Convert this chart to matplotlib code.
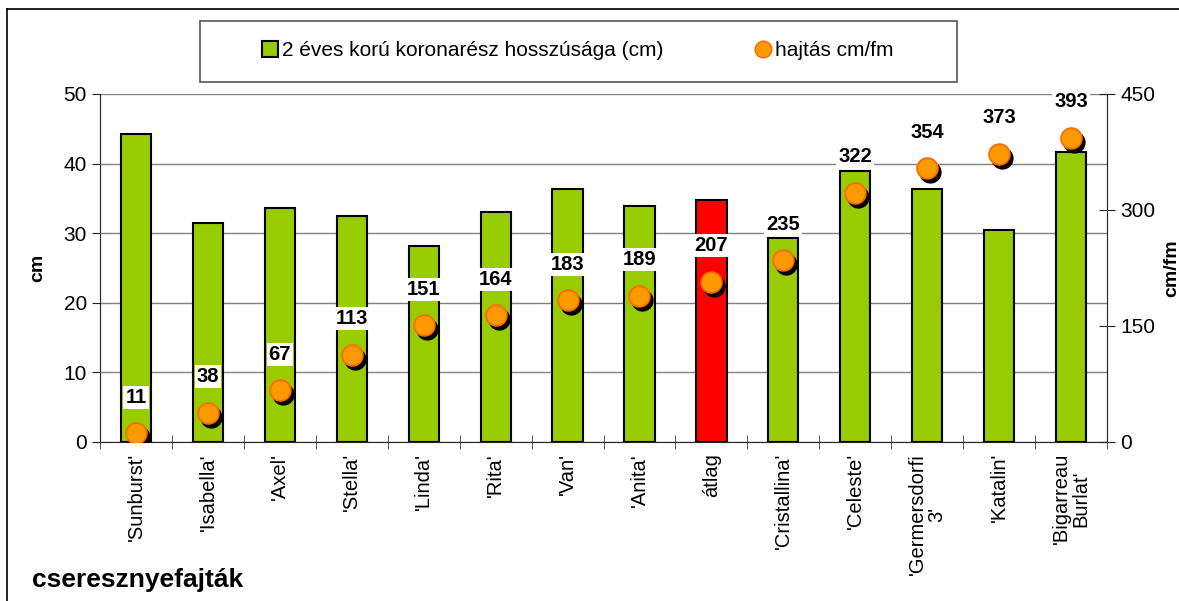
import numpy as np
import matplotlib
matplotlib.use("Agg")
import matplotlib.pyplot as plt
import matplotlib.transforms as mtransforms
from matplotlib.lines import Line2D
from matplotlib.patches import Rectangle

plt.rcParams['font.family'] = ['Liberation Sans', 'DejaVu Sans']

# data
fajtak = ["'Sunburst'", "'Isabella'", "'Axel'", "'Stella'", "'Linda'", "'Rita'",
          "'Van'", "'Anita'", "átlag", "'Cristallina'", "'Celeste'",
          "'Germersdorfi\n3'", "'Katalin'", "'Bigarreau\nBurlat'"]
korona_cm = [44.3, 31.5, 33.6, 32.5, 28.2, 33.0, 36.3, 33.9, 34.8, 29.3,
             39.0, 36.3, 30.5, 41.6]
hajtas = [11, 38, 67, 113, 151, 164, 183, 189, 207, 235, 322, 354, 373, 393]
atlag_nev = "átlag"

green = '#99CC00'
red = '#FF0000'
orange = '#FF9900'

fig = plt.figure(figsize=(11.79, 6.01), dpi=100)
ax = fig.add_axes([0.0848, 0.2646, 0.8542, 0.579])

x = np.arange(len(fajtak))
colors = [red if f == atlag_nev else green for f in fajtak]
ax.bar(x, korona_cm, width=0.42, color=colors, edgecolor='black',
       linewidth=1.5, zorder=2)

ax.set_xlim(-0.5, len(fajtak) - 0.5)
ax.set_ylim(0, 50)
ax.set_yticks(np.arange(0, 51, 10))
ax.yaxis.grid(True, color='#808080', linewidth=1)
ax.set_axisbelow(True)
ax.tick_params(axis='y', labelsize=15, direction='out', length=6, colors='#222222')
ax.tick_params(axis='y', labelcolor='black')
ax.set_xticks(np.arange(len(fajtak) + 1) - 0.5, minor=True)
ax.set_xticks(x)
ax.set_xticklabels(fajtak, rotation=90, fontsize=14.5, ha='center', va='top',
                   multialignment='center', linespacing=1.0)
ax.tick_params(axis='x', which='major', length=0, pad=8)
ax.tick_params(axis='x', which='minor', length=10, direction='inout', colors='#333333')
for s in ['top', 'right']:
    ax.spines[s].set_visible(False)
ax.spines['left'].set_color('#222222')
ax.spines['bottom'].set_color('#222222')
ax.set_ylabel('cm', fontsize=14, fontweight='bold', labelpad=12)

ax2 = ax.twinx()
ax2.set_ylim(0, 450)
ax2.set_yticks([0, 150, 300, 450])
ax2.tick_params(axis='y', labelsize=15, direction='inout', length=12, colors='#222222')
ax2.tick_params(axis='y', labelcolor='black')
for s in ['top', 'left', 'bottom']:
    ax2.spines[s].set_visible(False)
ax2.spines['right'].set_color('#222222')
ax2.set_ylabel('cm/fm', fontsize=14, fontweight='bold', labelpad=6)

# shadow, then the points
shadow = mtransforms.offset_copy(ax2.transData, fig=fig, x=3, y=-4, units='dots')
ax2.plot(x, hajtas, 'o', color='black', markersize=15, transform=shadow, zorder=3)
ax2.plot(x, hajtas, 'o', color=orange, markeredgecolor='#FF6600',
         markeredgewidth=1.2, markersize=15, zorder=4)

for xi, v in zip(x, hajtas):
    ax2.annotate(str(v), (xi, v), xytext=(0, 26), textcoords='offset points',
                 ha='center', va='center', fontsize=14.5, fontweight='bold',
                 bbox=dict(boxstyle='square,pad=0.1', fc='white', ec='none'),
                 zorder=5)

# legend
fig.add_artist(Rectangle((200 / 1179, 1 - 81.7 / 601), 757 / 1179, 61 / 601,
                         transform=fig.transFigure, fill=False,
                         edgecolor='#555555', linewidth=1.2))
handles = [Line2D([], [], marker='s', linestyle='none', markerfacecolor=green,
                  markeredgecolor='black', markeredgewidth=1.5, markersize=11),
           Line2D([], [], marker='o', linestyle='none', markerfacecolor=orange,
                  markeredgecolor='#FF6600', markersize=12)]
fig.legend(handles, ['2 éves korú koronarész hosszúsága (cm)', 'hajtás cm/fm'],
           loc='center', bbox_to_anchor=(578 / 1179, 1 - 51 / 601), ncol=2,
           frameon=False, fontsize=15, handlelength=0.7, handletextpad=0.25,
           columnspacing=4.4)

# outer frame
fig.add_artist(Line2D([6.7 / 1179, 6.7 / 1179], [0, 1 - 9 / 601],
                      transform=fig.transFigure, color='black', linewidth=1.2))
fig.add_artist(Line2D([6.7 / 1179, 1], [1 - 9 / 601, 1 - 9 / 601],
                      transform=fig.transFigure, color='black', linewidth=1.2))

fig.text(32 / 1179, 1 - 580 / 601, 'cseresznyefajták', fontsize=19,
         fontweight='bold', va='center', ha='left')

fig.savefig('out.png', dpi=100)
